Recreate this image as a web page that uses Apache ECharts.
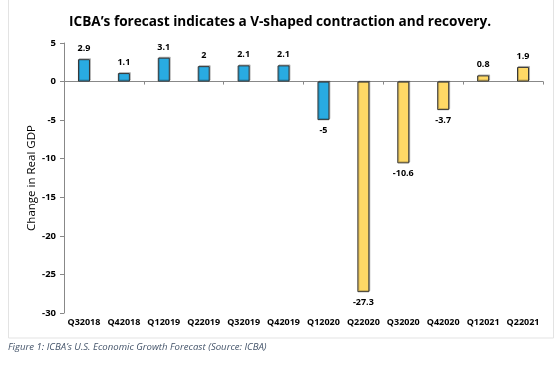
<!DOCTYPE html>
<html>
<head>
<meta charset="utf-8">
<script src="https://cdn.jsdelivr.net/npm/echarts@6/dist/echarts.min.js"></script>
<style>
  html, body { margin: 0; padding: 0; background: #fff; }
  #chart { width: 560px; height: 377px; }
</style>
</head>
<body>
<div id="chart"></div>
<script>
// quarters and GDP change (actual first, then ICBA forecast)
const quarters = ['Q32018', 'Q42018', 'Q12019', 'Q22019', 'Q32019', 'Q42019',
                  'Q12020', 'Q22020', 'Q32020', 'Q42020', 'Q12021', 'Q22021'];
const gdpChange = [2.9, 1.1, 3.1, 2, 2.1, 2.1, -5, -27.3, -10.6, -3.7, 0.8, 1.9];
const firstForecast = 7; // Q22020 onwards is forecast
const yTicks = [5, 0, -5, -10, -15, -20, -25, -30];

const actual = gdpChange.map((v, i) => i < firstForecast ? v : '-');
const forecast = gdpChange.map((v, i) => i >= firstForecast ? v : '-');

const chart = echarts.init(document.getElementById('chart'));

const labelOpt = {
  show: true,
  fontFamily: 'Open Sans',
  fontSize: 9,
  fontWeight: 'bold',
  color: '#000',
  distance: 6,
  position: 'top'
};

function barSeries(name, data, color) {
  return {
    name: name,
    type: 'bar',
    xAxisIndex: 0,
    data: data.map(v => v === '-' ? '-' : {
      value: v,
      label: { position: v < 0 ? 'bottom' : 'top' }
    }),
    barWidth: 12,
    barGap: '-100%',
    itemStyle: {
      color: color,
      borderColor: '#333',
      borderWidth: 1,
      shadowColor: 'rgba(0,0,0,0.22)',
      shadowOffsetX: 1,
      shadowOffsetY: -1
    },
    label: labelOpt
  };
}

const option = {
  animation: false,
  backgroundColor: '#fff',
  title: {
    text: 'ICBA’s forecast indicates a V-shaped contraction and recovery.',
    left: 'center',
    top: 10,
    textStyle: { fontFamily: 'Open Sans', fontSize: 13.6, fontWeight: 'bold', color: '#000' }
  },
  grid: { left: 64, right: 17, top: 43, bottom: 64 },
  xAxis: [{
    type: 'category',
    data: quarters,
    axisLine: { onZero: true, lineStyle: { color: '#888', width: 1 } },
    axisTick: { show: true, length: 3, lineStyle: { color: '#888' } },
    axisLabel: { show: false }
  }, {
    type: 'category',
    data: quarters,
    position: 'bottom',
    axisLine: { show: false },
    axisTick: { show: false },
    axisLabel: {
      interval: 0,
      fontFamily: 'Open Sans', fontSize: 9, fontWeight: 'bold', color: '#000', margin: 5
    }
  }],
  yAxis: {
    type: 'value',
    min: yTicks[yTicks.length - 1],
    max: yTicks[0],
    interval: 5,
    name: 'Change in Real GDP',
    nameLocation: 'middle',
    nameGap: 26,
    nameMoveOverlap: false,
    nameTextStyle: { fontFamily: 'Open Sans', fontSize: 11.5, color: '#000' },
    axisLine: { show: true, lineStyle: { color: '#888' } },
    axisTick: { show: true, length: 4, lineStyle: { color: '#888' } },
    axisLabel: { fontFamily: 'Open Sans', fontSize: 9.5, fontWeight: 'bold', color: '#000', margin: 8 },
    splitLine: { show: false }
  },
  series: [
    barSeries('Actual', actual, '#29ABE2'),
    barSeries('Forecast', forecast, '#FFD966')
  ],
  graphic: [{
    type: 'rect',
    shape: { x: 8.5, y: -1, width: 545, height: 339 },
    style: { fill: 'none', stroke: '#e3e3e3', lineWidth: 1 },
    z: -1
  }, {
    type: 'text',
    left: 8,
    top: 342,
    style: {
      text: 'Figure 1: ICBA’s U.S. Economic Growth Forecast (Source: ICBA)',
      fontFamily: 'Open Sans',
      fontSize: 9.6,
      fontStyle: 'italic',
      fill: '#44546A'
    }
  }]
};

chart.setOption(option);
</script>
</body>
</html>
